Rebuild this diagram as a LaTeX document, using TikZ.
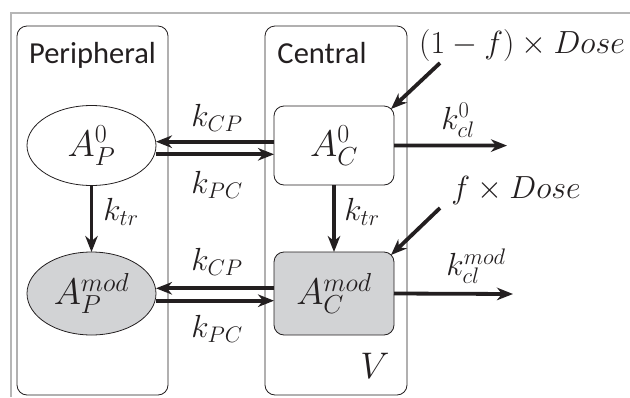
\RequirePackage{fix-cm}
\documentclass[tikz,border=0pt]{standalone}
\usepackage[no-math]{fontspec}
\newfontfamily\headfont{Carlito}
\usetikzlibrary{shapes.geometric,arrows.meta}
\definecolor{ink}{RGB}{35,31,32}
\definecolor{framegray}{RGB}{182,182,182}
\definecolor{modfill}{RGB}{210,211,213}
% slightly larger scripts for the big formula sizes
\DeclareMathSizes{37}{37}{26}{19}
\DeclareMathSizes{32}{32}{22.5}{16}
\begin{document}
\begin{tikzpicture}[x=1pt,y=-1pt,
  compartment/.style={draw=ink, line width=0.8pt, rounded corners=10pt, inner sep=0pt, outer sep=0pt},
  head/.style={font=\headfont\fontsize{30.5}{36}\selectfont, text=ink, inner sep=0pt, anchor=base},
  amount/.style={font=\fontsize{37}{44}\selectfont, text=ink, inner sep=0pt, outer sep=0pt, line width=0.8pt},
  pnode/.style={amount, ellipse, draw=ink, minimum width=129pt},
  cnode/.style={amount, rectangle, rounded corners=10pt, draw=ink, minimum width=120pt},
  rate/.style={font=\fontsize{32}{38}\selectfont, text=ink, inner sep=0pt},
  flow/.style={draw=ink, line width=3.8pt, -{Stealth[length=16pt,width=12.5pt,inset=5pt]}}]
\useasboundingbox (0,0) rectangle (630,397);

% outer frame (top and left edges only)
\draw[framegray, line width=1.8pt] (11,397) -- (11,13) -- (630,13);

% compartments
\node[compartment, minimum width=151pt, minimum height=369pt] (periph) at (92.5,210.5) {};
\node[compartment, minimum width=142pt, minimum height=369pt] (central) at (336,210.5) {};
\node[head] (periphlabel) at (92.5,63) {Peripheral};
\node[head] (centrallabel) at (322,63) {Central};
\node[amount] (vol) at (375,366) {$V$};

% amounts
\node[pnode, fill=white, minimum height=80pt] (ap0) at (91.5,145.5) {$A_P^0$};
\node[pnode, fill=modfill, minimum height=83pt] (apm) at (91.5,293.5) {$A_P^{mod}$};
\node[cnode, fill=white, minimum height=79pt] (ac0) at (334,145.5) {$A_C^0$};
\node[cnode, fill=modfill, minimum height=83pt] (acm) at (334,293.5) {$A_C^{mod}$};

% distribution between compartments
\draw[flow] ([yshift=3.8pt]ac0.west) -- ([yshift=3.8pt]ap0.east);
\draw[flow] ([yshift=-8.8pt]ap0.east) -- ([yshift=-8.8pt]ac0.west);
\draw[flow] ([yshift=5.2pt]acm.west) -- ([yshift=5.2pt]apm.east);
\draw[flow] ([yshift=-7.2pt]apm.east) -- ([yshift=-7.2pt]acm.west);
\node[rate] (kcp1) at (217,118) {$k_{CP}$};
\node[rate] (kpc1) at (217,185) {$k_{PC}$};
\node[rate] (kcp2) at (217,262) {$k_{CP}$};
\node[rate] (kpc2) at (217,329) {$k_{PC}$};

% transformation
\draw[flow] (ap0) -- (apm);
\draw[flow] (ac0) -- (acm);
\node[rate] (ktr1) at (121,212) {$k_{tr}$};
\node[rate] (ktr2) at (362,212) {$k_{tr}$};

% dosing
\node[rate] (dose0) at (522,45) {$(1-f)\times Dose$};
\node[rate] (dosem) at (516,190) {$f\times Dose$};
\coordinate (in0) at (440,63);
\coordinate (inm) at (440,208);
\draw[flow] (in0) -- ([xshift=-3pt,yshift=-3pt]ac0.north east);
\draw[flow] (inm) -- ([xshift=-3pt,yshift=-3pt]acm.north east);

% clearance
\coordinate (out0) at (507,145.6);
\coordinate (outm) at (513,294);
\draw[flow] (ac0.east) -- (out0);
\draw[flow] (acm.east) -- (outm);
\node[rate] (kcl0) at (458,120) {$k_{cl}^{0}$};
\node[rate] (kclm) at (476,266) {$k_{cl}^{mod}$};
\end{tikzpicture}
\end{document}
